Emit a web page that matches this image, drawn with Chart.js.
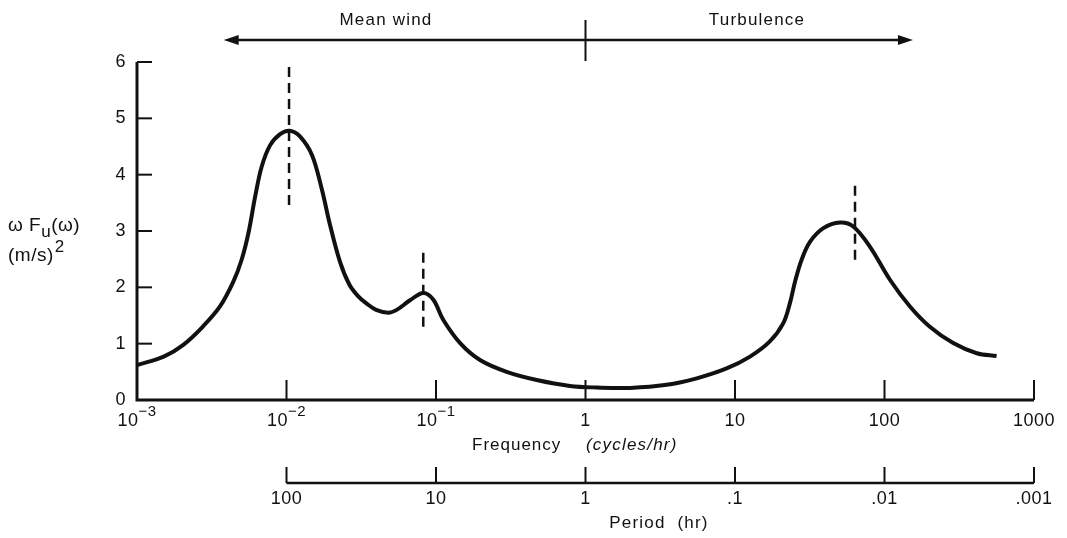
<!DOCTYPE html>
<html lang="en">
<head>
    <meta charset="UTF-8">
    <title>Wind speed spectrum</title>
    <script src="https://cdn.jsdelivr.net/npm/chart.js@4.4.1/dist/chart.umd.min.js"></script>
    <style>
        html, body { margin: 0; padding: 0; background: #fff; }
    </style>
</head>
<body>
    <canvas id="myChart" width="1067" height="538"></canvas>
    <script>
        // spectrum (frequency in cycles/hr, wF(w) in (m/s)^2)
        const freq = [0.001, 0.00151, 0.00204, 0.00275, 0.00359, 0.00441, 0.00501, 0.00556, 0.00617, 0.00682,
            0.00776, 0.00906, 0.0105, 0.0123, 0.0148, 0.0172, 0.0195, 0.0228, 0.0263, 0.0302,
            0.0344, 0.0398, 0.048, 0.0546, 0.067, 0.0822, 0.096, 0.112, 0.145, 0.197,
            0.297, 0.472, 0.787, 1.19, 1.99, 3.49, 5.55, 8.79, 12.6, 17.1,
            21.0, 23.3, 25.2, 27.9, 31.8, 39.0, 50.4, 61.8, 80.0, 109,
            148, 201, 288, 414, 562];
        const spectrum = [0.62, 0.77, 0.98, 1.30, 1.66, 2.10, 2.49, 2.96, 3.61, 4.14,
            4.52, 4.72, 4.78, 4.68, 4.35, 3.75, 3.12, 2.45, 2.05, 1.84,
            1.71, 1.60, 1.55, 1.60, 1.77, 1.90, 1.78, 1.42, 1.01, 0.71,
            0.50, 0.355, 0.25, 0.222, 0.215, 0.27, 0.385, 0.56, 0.77, 1.04,
            1.36, 1.72, 2.10, 2.49, 2.81, 3.05, 3.15, 3.08, 2.72, 2.13,
            1.66, 1.30, 1.01, 0.83, 0.78];

        // dashed markers at the spectral peaks
        const peakFreq = [0.0104, 0.0822, 63.5];
        const peakTop = [5.92, 2.72, 3.82];
        const peakBottom = [3.46, 1.30, 2.49];

        const freqTicks = [0.001, 0.01, 0.1, 1, 10, 100, 1000];
        const freqTickBase = ['10', '10', '10', '1', '10', '100', '1000'];
        const freqTickExp = ['\u22123', '\u22122', '\u22121', '', '', '', ''];
        const periodTicks = [0.01, 0.1, 1, 10, 100, 1000];
        const periodLabels = ['100', '10', '1', '.1', '.01', '.001'];
        const yTicks = [0, 1, 2, 3, 4, 5, 6];

        const ink = '#111';
        const font = '"Liberation Sans", Arial, sans-serif';

        var ctx = document.getElementById('myChart').getContext('2d');

        var datasets = [{
            data: freq.map((f, i) => ({x: f, y: spectrum[i]})),
            borderColor: ink,
            borderWidth: 4,
            pointRadius: 0,
            tension: 0.35,
            showLine: true
        }];
        peakFreq.forEach((f, i) => {
            datasets.push({
                data: [{x: f, y: peakBottom[i]}, {x: f, y: peakTop[i]}],
                borderColor: ink,
                borderWidth: 2.5,
                borderDash: [10, 6],
                pointRadius: 0,
                showLine: true
            });
        });

        function line(c, x1, y1, x2, y2) {
            c.beginPath();
            c.moveTo(x1, y1);
            c.lineTo(x2, y2);
            c.stroke();
        }

        function setFont(c, size, style, spacing) {
            c.font = (style ? style + ' ' : '') + size + 'px ' + font;
            c.letterSpacing = (spacing || 0) + 'px';
        }

        const decor = {
            id: 'decor',
            afterDatasetsDraw(chart) {
                const c = chart.ctx;
                const a = chart.chartArea;
                const x = chart.scales.x, y = chart.scales.y;
                c.save();
                c.strokeStyle = ink;
                c.fillStyle = ink;

                // axes
                c.lineWidth = 3;
                c.beginPath();
                c.moveTo(a.left, y.getPixelForValue(6));
                c.lineTo(a.left, a.bottom);
                c.lineTo(a.right, a.bottom);
                c.stroke();

                c.lineWidth = 2;
                c.textBaseline = 'middle';
                setFont(c, 18, '', 0.5);
                yTicks.forEach(v => {
                    const py = y.getPixelForValue(v);
                    if (v > 0) line(c, a.left, py, a.left + 15, py);
                    c.textAlign = 'right';
                    c.fillText(String(v), a.left - 11, py);
                });

                freqTicks.forEach((f, i) => {
                    const px = x.getPixelForValue(f);
                    if (i > 0) line(c, px, a.bottom, px, a.bottom - 20);
                    c.textAlign = 'left';
                    setFont(c, 18, '', 0.5);
                    const w1 = c.measureText(freqTickBase[i]).width;
                    setFont(c, 15, '', 0.5);
                    const w2 = c.measureText(freqTickExp[i]).width;
                    const sx = px - (w1 + w2) / 2;
                    setFont(c, 18, '', 0.5);
                    c.fillText(freqTickBase[i], sx, a.bottom + 21);
                    setFont(c, 15, '', 0.5);
                    c.fillText(freqTickExp[i], sx + w1, a.bottom + 12);
                });

                // frequency title, unit in italics
                c.textAlign = 'left';
                setFont(c, 17, '', 1);
                c.fillText('Frequency', 472, a.bottom + 45);
                setFont(c, 17, 'italic', 1.2);
                c.fillText('(cycles/hr)', 586, a.bottom + 45);

                // period axis
                const py0 = a.bottom + 83;
                c.lineWidth = 2.5;
                line(c, x.getPixelForValue(periodTicks[0]), py0, x.getPixelForValue(periodTicks[periodTicks.length - 1]), py0);
                c.lineWidth = 2;
                setFont(c, 18, '', 0.5);
                c.textAlign = 'center';
                periodTicks.forEach((f, i) => {
                    const px = x.getPixelForValue(f);
                    line(c, px, py0, px, py0 - 16);
                    c.fillText(periodLabels[i], px, py0 + 16);
                });
                setFont(c, 17, '', 1.2);
                c.fillText('Period  (hr)', 659, py0 + 40);

                // mean wind / turbulence arrow
                const ay = 40;
                const ax1 = x.getPixelForValue(0.0038), ax2 = x.getPixelForValue(155);
                const amid = x.getPixelForValue(1);
                c.lineWidth = 2.5;
                line(c, ax1 + 6, ay, ax2 - 6, ay);
                c.beginPath();
                c.moveTo(ax1, ay); c.lineTo(ax1 + 15, ay - 5); c.lineTo(ax1 + 15, ay + 5); c.closePath();
                c.fill();
                c.beginPath();
                c.moveTo(ax2, ay); c.lineTo(ax2 - 15, ay - 5); c.lineTo(ax2 - 15, ay + 5); c.closePath();
                c.fill();
                c.lineWidth = 2;
                line(c, amid, 20, amid, 61);
                setFont(c, 17, '', 1.2);
                c.fillText('Mean wind', 386, 20);
                c.fillText('Turbulence', 757, 20);

                // y axis label
                c.textAlign = 'left';
                let lx = 8;
                const ly = 226;
                setFont(c, 19, '', 0.5);
                c.fillText('\u03c9 F', lx, ly);
                lx += c.measureText('\u03c9 F').width;
                setFont(c, 17, '', 0.5);
                c.fillText('u', lx, ly + 6);
                lx += c.measureText('u').width;
                setFont(c, 19, '', 0.5);
                c.fillText('(\u03c9)', lx, ly);
                c.fillText('(m/s)', 8, ly + 30);
                const mw = c.measureText('(m/s)').width;
                setFont(c, 17, '', 0.5);
                c.fillText('2', 8 + mw + 1, ly + 21);

                c.restore();
            }
        };

        var myChart = new Chart(ctx, {
            type: 'scatter',
            data: { datasets: datasets },
            options: {
                responsive: false,
                animation: false,
                layout: {
                    padding: { left: 137, right: 33, top: 62, bottom: 138 }
                },
                scales: {
                    x: { type: 'logarithmic', min: 0.001, max: 1000, display: false },
                    y: { type: 'linear', min: 0, max: 6, display: false }
                },
                plugins: {
                    legend: { display: false },
                    tooltip: { enabled: false }
                }
            },
            plugins: [decor]
        });
    </script>
</body>
</html>
